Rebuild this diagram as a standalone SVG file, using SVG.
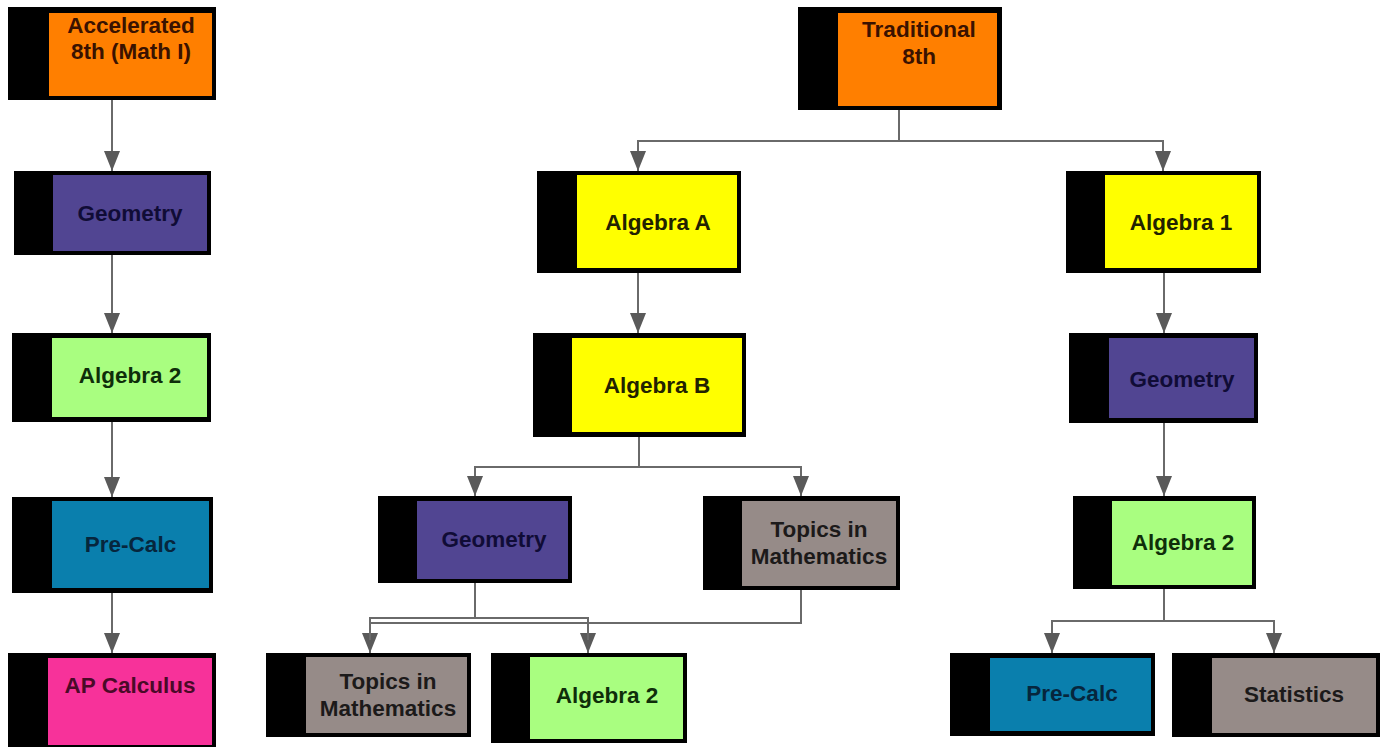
<svg xmlns="http://www.w3.org/2000/svg" width="1384" height="747" viewBox="0 0 1384 747">
<style>
.bg{fill:#000}
.t{font-family:"Liberation Sans",Arial,sans-serif;font-weight:bold;font-size:22.5px;text-anchor:middle}
.orange{fill:#ff7f00}.orange-t{fill:#3a1200}
.yellow{fill:#ffff00}.yellow-t{fill:#222200}
.purple{fill:#514592}.purple-t{fill:#100c36}
.green{fill:#a9fe80}.green-t{fill:#0f2e0a}
.blue{fill:#0a7fad}.blue-t{fill:#06263d}
.pink{fill:#f7329a}.pink-t{fill:#4a0a28}
.gray{fill:#968b88}.gray-t{fill:#1c1a1a}
.c{fill:none;stroke:#6a6a6a;stroke-width:2}
</style>
<defs>
<marker id="ah" viewBox="0 0 20 16" refX="20" refY="8" markerWidth="20" markerHeight="16" markerUnits="userSpaceOnUse" orient="auto">
<path d="M0,0 L20,8 L0,16 z" fill="#5a5a5a"/>
</marker>
</defs>
<rect width="1384" height="747" fill="#fff"/>
<g id="connectors">
<path class="c" d="M112,100 V171" marker-end="url(#ah)"/>
<path class="c" d="M112,255 V333" marker-end="url(#ah)"/>
<path class="c" d="M112,422 V497" marker-end="url(#ah)"/>
<path class="c" d="M112,593 V653" marker-end="url(#ah)"/>
<path class="c" d="M899,110 V141 H638 V171" marker-end="url(#ah)"/>
<path class="c" d="M899,141 H1163 V171" marker-end="url(#ah)"/>
<path class="c" d="M638,273 V333" marker-end="url(#ah)"/>
<path class="c" d="M639,437 V467 H475 V496" marker-end="url(#ah)"/>
<path class="c" d="M639,467 H801 V496" marker-end="url(#ah)"/>
<path class="c" d="M475,583 V618 H370 V653" marker-end="url(#ah)"/>
<path class="c" d="M475,618 H588 V653" marker-end="url(#ah)"/>
<path class="c" d="M801,590 V623 H370 V640"/>
<path class="c" d="M588,623 V640"/>
<path class="c" d="M1164,273 V333" marker-end="url(#ah)"/>
<path class="c" d="M1164,423 V496" marker-end="url(#ah)"/>
<path class="c" d="M1164,589 V621 H1052 V653" marker-end="url(#ah)"/>
<path class="c" d="M1164,621 H1274 V653" marker-end="url(#ah)"/>
</g>
<g id="accelerated8th">
<rect class="bg" x="8" y="7" width="208" height="93"/>
<rect class="orange" x="49" y="13" width="163" height="83"/>
<text class="t orange-t" x="131" y="33">Accelerated</text>
<text class="t orange-t" x="131" y="59">8th (Math I)</text>
</g>
<g id="geometryL">
<rect class="bg" x="14" y="171" width="197" height="84"/>
<rect class="purple" x="53" y="175" width="154" height="76"/>
<text class="t purple-t" x="130" y="221">Geometry</text>
</g>
<g id="algebra2L">
<rect class="bg" x="12" y="333" width="199" height="89"/>
<rect class="green" x="52" y="338" width="155" height="79"/>
<text class="t green-t" x="130" y="383">Algebra 2</text>
</g>
<g id="precalcL">
<rect class="bg" x="12" y="497" width="201" height="96"/>
<rect class="blue" x="52" y="501" width="157" height="87"/>
<text class="t blue-t" x="130.5" y="552">Pre-Calc</text>
</g>
<g id="apcalculus">
<rect class="bg" x="8" y="653" width="208" height="95"/>
<rect class="pink" x="48" y="658" width="164" height="87"/>
<text class="t pink-t" x="130" y="693">AP Calculus</text>
</g>
<g id="traditional8th">
<rect class="bg" x="798" y="7" width="204" height="103"/>
<rect class="orange" x="838" y="13" width="159" height="93"/>
<text class="t orange-t" x="919" y="37">Traditional</text>
<text class="t orange-t" x="919" y="64">8th</text>
</g>
<g id="algebraA">
<rect class="bg" x="537" y="171" width="204" height="102"/>
<rect class="yellow" x="577" y="175" width="160" height="93"/>
<text class="t yellow-t" x="658" y="230">Algebra A</text>
</g>
<g id="algebraB">
<rect class="bg" x="533" y="333" width="213" height="104"/>
<rect class="yellow" x="572" y="338" width="170" height="94"/>
<text class="t yellow-t" x="657" y="393">Algebra B</text>
</g>
<g id="algebra1">
<rect class="bg" x="1066" y="171" width="195" height="102"/>
<rect class="yellow" x="1105" y="175" width="152" height="93"/>
<text class="t yellow-t" x="1181" y="230">Algebra 1</text>
</g>
<g id="geometryR">
<rect class="bg" x="1069" y="333" width="189" height="90"/>
<rect class="purple" x="1109" y="338" width="145" height="80"/>
<text class="t purple-t" x="1182" y="387">Geometry</text>
</g>
<g id="geometryM">
<rect class="bg" x="378" y="496" width="194" height="87"/>
<rect class="purple" x="417" y="501" width="151" height="78"/>
<text class="t purple-t" x="494" y="547">Geometry</text>
</g>
<g id="topicsM">
<rect class="bg" x="703" y="496" width="197" height="94"/>
<rect class="gray" x="742" y="501" width="154" height="85"/>
<text class="t gray-t" x="819" y="537">Topics in</text>
<text class="t gray-t" x="819" y="564">Mathematics</text>
</g>
<g id="topicsB">
<rect class="bg" x="266" y="653" width="205" height="84"/>
<rect class="gray" x="306" y="657" width="161" height="76"/>
<text class="t gray-t" x="388" y="689">Topics in</text>
<text class="t gray-t" x="388" y="716">Mathematics</text>
</g>
<g id="algebra2B">
<rect class="bg" x="491" y="653" width="196" height="90"/>
<rect class="green" x="530" y="657" width="153" height="82"/>
<text class="t green-t" x="607" y="703">Algebra 2</text>
</g>
<g id="algebra2R">
<rect class="bg" x="1073" y="496" width="183" height="93"/>
<rect class="green" x="1112" y="501" width="140" height="84"/>
<text class="t green-t" x="1183" y="550">Algebra 2</text>
</g>
<g id="precalcR">
<rect class="bg" x="950" y="653" width="205" height="83"/>
<rect class="blue" x="990" y="658" width="161" height="73"/>
<text class="t blue-t" x="1072" y="701">Pre-Calc</text>
</g>
<g id="statistics">
<rect class="bg" x="1172" y="653" width="208" height="84"/>
<rect class="gray" x="1212" y="658" width="164" height="75"/>
<text class="t gray-t" x="1294" y="702">Statistics</text>
</g>
</svg>
